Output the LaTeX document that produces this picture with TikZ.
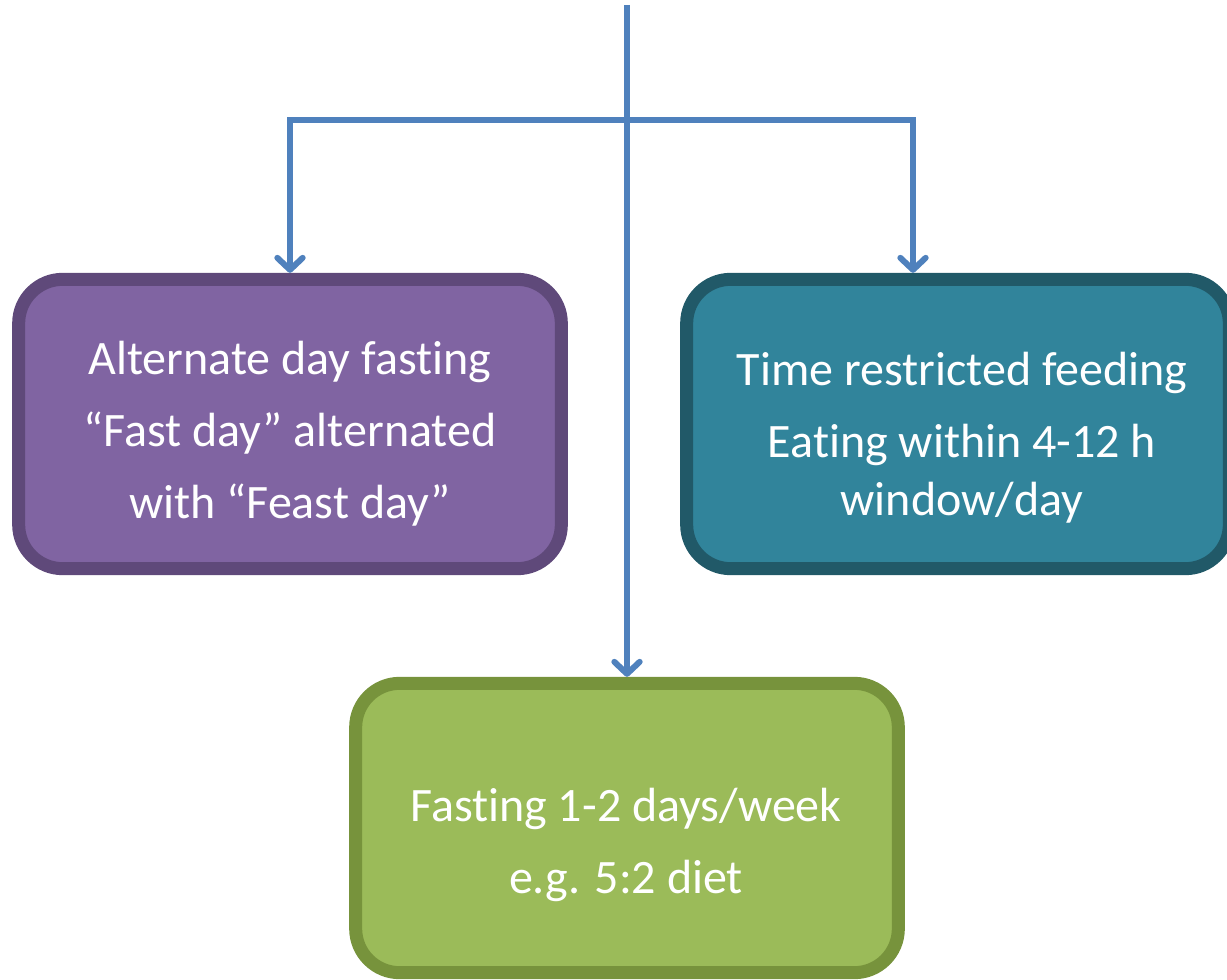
\documentclass[tikz,border=0pt]{standalone}
\usepackage{fontspec}
\setmainfont{Carlito}[Ligatures=NoCommon]
\usetikzlibrary{arrows.meta,shadows}
\definecolor{flowblue}{HTML}{4F81BD}
\definecolor{purplefill}{HTML}{8064A2}
\definecolor{purpleline}{HTML}{5F497A}
\definecolor{tealfill}{HTML}{31849B}
\definecolor{tealline}{HTML}{215968}
\definecolor{greenfill}{HTML}{9BBB59}
\definecolor{greenline}{HTML}{77933C}
\tikzset{
  flow/.style={flowblue, line width=4.5pt,
    -{Straight Barb[length=9pt,width=19pt,round]}},
  fastbox/.style={rectangle, rounded corners=33pt, line width=9.75pt,
    minimum width=#1, minimum height=217pt,
    drop shadow={shadow xshift=0pt, shadow yshift=-3pt, opacity=0.25}},
  boxtext/.style={text=white, align=center,
    font=\fontsize{36}{54}\selectfont}
}
\begin{document}
\begin{tikzpicture}[x=0.75pt,y=-0.75pt]
      \useasboundingbox (0,0) rectangle (1227,980);
      \clip (0,0) rectangle (1227,980);
      % boxes
      \node[fastbox=407pt, fill=purplefill, draw=purpleline] (adf) at (290,424) {};
      \node[fastbox=407pt, fill=tealfill, draw=tealline] (trf) at (958,424) {};
      \node[fastbox=407pt, fill=greenfill, draw=greenline] (week) at (627,828) {};
      \node[boxtext] (adftext) at (290,434) {Alternate day fasting\\“Fast day” alternated\\with “Feast day”};
      \node[boxtext] (trftext) at (962,438) {Time restricted feeding\\Eating within 4-12 h\\[-10.5pt]window/day};
      \node[boxtext] (weektext) at (626,845) {Fasting 1-2 days/week\\e.g. 5:2 diet};
      % connectors
      \coordinate (top) at (627,5);
      \coordinate (split) at (627,120);
      \coordinate (lsplit) at (290,120);
      \coordinate (rsplit) at (913,120);
      \draw[flow] (top) -- (week.north);
      \draw[flow] (split) -- (lsplit) -- (adf.north);
      \draw[flow] (split) -- (rsplit) -- (rsplit |- trf.north);
    \end{tikzpicture}
\end{document}
